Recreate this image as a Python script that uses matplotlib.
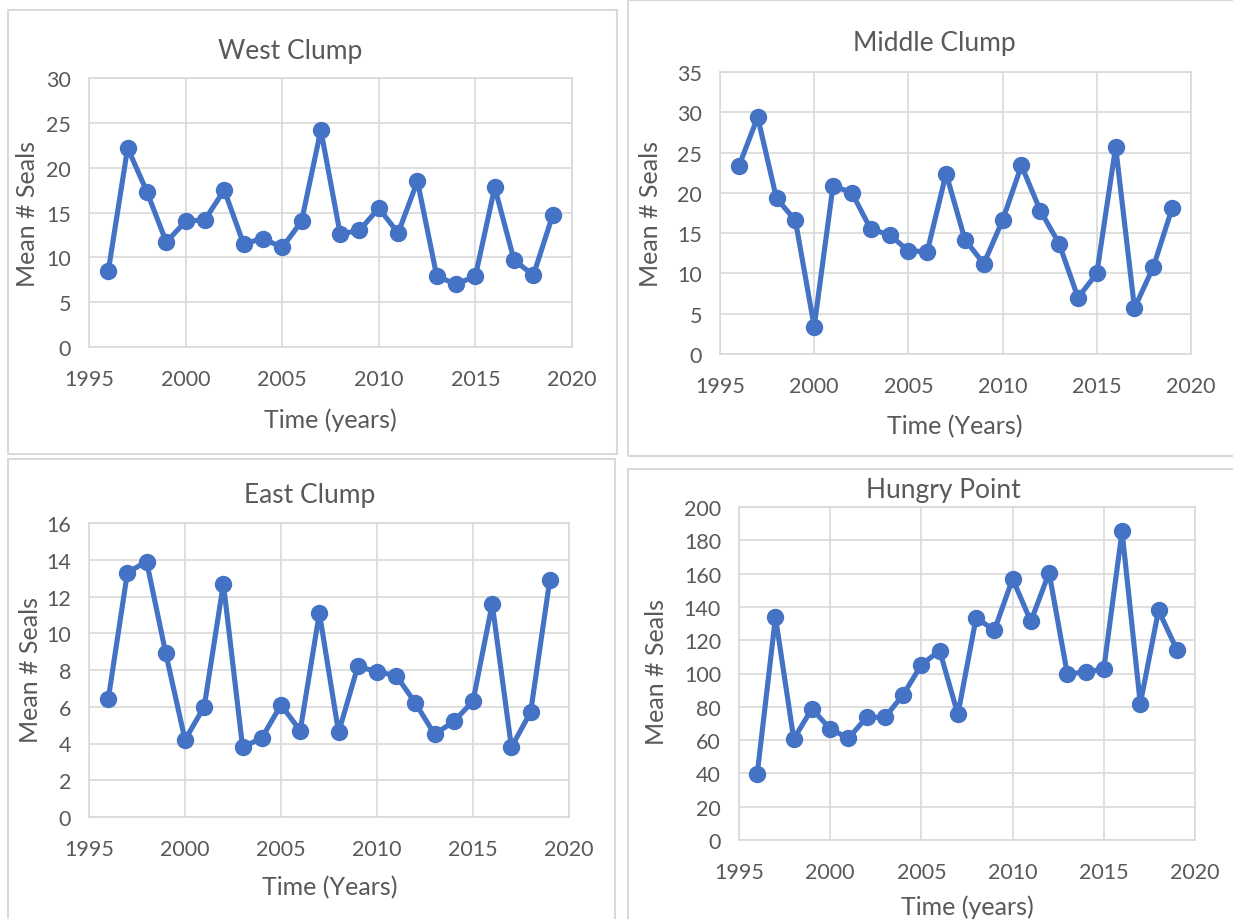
import numpy as np
import matplotlib.pyplot as plt
from matplotlib.patches import Rectangle

plt.rcParams['font.family'] = ['Lato', 'DejaVu Sans']

# Survey years
years = np.arange(1996, 2020)

# Mean number of seals per site
west = [8.5, 22.2, 17.3, 11.7, 14.0, 14.2, 17.5, 11.5, 12.1, 11.1, 14.0, 24.2,
        12.6, 13.0, 15.5, 12.7, 18.5, 7.9, 7.0, 7.9, 17.8, 9.7, 8.0, 14.7]
middle = [23.3, 29.4, 19.3, 16.6, 3.4, 20.9, 20.0, 15.5, 14.8, 12.8, 12.7, 22.4,
          14.2, 11.2, 16.6, 23.4, 17.8, 13.7, 7.0, 10.0, 25.7, 5.7, 10.8, 18.1]
east = [6.4, 13.3, 13.9, 8.9, 4.2, 6.0, 12.7, 3.8, 4.3, 6.1, 4.7, 11.1,
        4.6, 8.2, 7.9, 7.7, 6.2, 4.5, 5.2, 6.3, 11.6, 3.8, 5.7, 12.9]
hungry = [39.7, 133.9, 60.7, 78.8, 66.7, 61.1, 73.7, 73.7, 87.2, 105.2, 113.8, 75.4,
          133.5, 125.9, 156.9, 131.3, 160.5, 99.8, 100.8, 102.8, 185.4, 81.8, 137.9, 114.4]

W, H = 1233, 920
BLUE = '#4472C4'
TXT = '#595959'
GRID = '#D9D9D9'

fig = plt.figure(figsize=(W / 100, H / 100), dpi=100)


def px(x, y):
    # pixel position (from top-left) to figure fraction
    return x / W, 1 - y / H


def panel(box, ax_px, values, ymax, ystep, title, tpos, xlabel, xpos, ypos):
    # light grey frame round each chart
    x0, y0, x1, y1 = box
    fig.patches.append(Rectangle(px(x0, y1), (x1 - x0) / W, (y1 - y0) / H,
                                 transform=fig.transFigure, fill=False,
                                 edgecolor=GRID, lw=1.5))
    l, t, r, b = ax_px
    ax = fig.add_axes([l / W, 1 - b / H, (r - l) / W, (b - t) / H])
    ax.plot(years, values, color=BLUE, lw=3.7, marker='o', ms=11.5,
            solid_capstyle='round', zorder=3)
    ax.set_xlim(1995, 2020)
    ax.set_ylim(0, ymax)
    ax.set_xticks(np.arange(1995, 2021, 5))
    ax.set_yticks(np.arange(0, ymax + 1, ystep))
    ax.grid(True, color=GRID, lw=1.2)
    ax.set_axisbelow(True)
    for s in ax.spines.values():
        s.set_color(GRID)
        s.set_linewidth(1.2)
    ax.tick_params(length=0, labelsize=15.5, colors=TXT)
    ax.tick_params(axis='x', pad=16)
    ax.tick_params(axis='y', pad=13)
    fig.text(*px(*tpos), title, ha='center', va='center', fontsize=19, color=TXT)
    fig.text(*px(*xpos), xlabel, ha='center', va='center', fontsize=18, color=TXT)
    fig.text(*px(*ypos), 'Mean # Seals', ha='center', va='center', fontsize=18,
             color=TXT, rotation=90)
    return ax


panel((8, 11, 617, 455), (89, 79, 572, 348), west, 30, 5,
      'West Clump', (290, 52), 'Time (years)', (330, 420), (28, 214))
panel((628, 1, 1240, 457), (720, 73, 1191, 355), middle, 35, 5,
      'Middle Clump', (934, 44), 'Time (Years)', (955, 427), (651, 214))
panel((8, 460, 615, 930), (89, 524, 569, 818), east, 16, 2,
      'East Clump', (310, 496), 'Time (Years)', (330, 888), (30, 670))
panel((628, 470, 1240, 930), (739, 508, 1195, 841), hungry, 200, 20,
      'Hungry Point', (943, 491), 'Time (years)', (967, 907), (656, 672))

fig.savefig('out.png', dpi=100)
